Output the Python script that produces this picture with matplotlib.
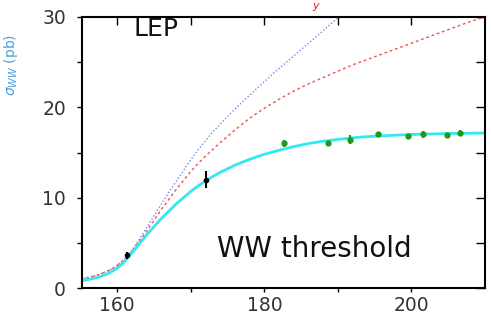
import matplotlib
matplotlib.use("Agg")
import matplotlib.pyplot as plt
import numpy as np

plt.rcParams['font.family'] = ['DejaVu Sans']

# Theory curves (sqrt(s) in GeV, sigma_WW in pb)
e_full = [155, 156, 157, 158, 159, 160, 161, 162, 163, 164, 165, 166, 167, 168, 169, 170, 171, 172, 173, 174,
          176, 178, 180, 182, 184, 186, 188, 190, 193, 196, 200, 205, 210]
sig_full = [0.8, 0.92, 1.1, 1.35, 1.7, 2.2, 2.95, 3.9, 4.9, 5.9, 6.8, 7.7, 8.5, 9.3, 10.0, 10.7, 11.3, 11.85, 12.35, 12.8,
            13.6, 14.25, 14.8, 15.25, 15.65, 16.0, 16.25, 16.45, 16.7, 16.85, 17.0, 17.1, 17.15]

e_nozww = [155, 156, 157, 158, 159, 160, 161, 162, 163, 164, 165, 166, 167, 168, 169, 170, 171, 172, 174, 176, 178,
           180, 182, 184, 186, 188, 190, 192, 194, 196, 198, 200, 202, 204, 206, 208, 210]
sig_nozww = [1.0, 1.15, 1.35, 1.65, 2.0, 2.5, 3.2, 4.1, 5.2, 6.3, 7.5, 8.7, 9.8, 10.9, 11.9, 12.9, 13.8, 14.6, 16.1, 17.5, 18.8,
             19.9, 20.9, 21.8, 22.6, 23.3, 24.0, 24.7, 25.3, 25.9, 26.5, 27.1, 27.7, 28.3, 28.9, 29.5, 30.0]

e_nunu = [155, 156, 157, 158, 159, 160, 161, 162, 163, 164, 165, 166, 167, 168, 169, 170, 171, 172, 173, 175, 177, 179,
          181, 183, 185, 187, 189, 191]
sig_nunu = [1.0, 1.15, 1.35, 1.65, 2.0, 2.5, 3.2, 4.2, 5.4, 6.7, 8.0, 9.3, 10.6, 11.8, 13.0, 14.2, 15.3, 16.3, 17.3, 19.0,
            20.6, 22.1, 23.6, 25.0, 26.4, 27.8, 29.2, 30.6]

# Measurements
e_thr = [161.3, 172.1]
s_thr = [3.6, 12.0]
err_thr = [0.4, 0.9]

e_lep2 = [182.7, 188.6, 191.6, 195.5, 199.5, 201.6, 204.8, 206.6]
s_lep2 = [16.0, 16.1, 16.4, 17.0, 16.8, 17.0, 16.9, 17.2]
err_lep2 = [0.4, 0.2, 0.5, 0.3, 0.3, 0.4, 0.3, 0.3]

fig = plt.figure(figsize=(4.91, 3.25), dpi=100)
ax = fig.add_axes([82/491, 37/325, 403/491, 271/325])

ax.plot(e_nunu, sig_nunu, color='#8080ee', lw=1.0, ls=(0, (1, 1.5)))
ax.plot(e_nozww, sig_nozww, color='#ee5555', lw=1.0, ls=(0, (2, 2)))
ax.plot(e_full, sig_full, color='#33e8ee', lw=2.0)
ax.errorbar(e_thr, s_thr, yerr=err_thr, fmt='o', color='black', ms=3, elinewidth=1.5, capsize=0)
ax.errorbar(e_lep2, s_lep2, yerr=err_lep2, fmt='o', color='#1a9a1a', ms=3.5, elinewidth=1.5, capsize=0)

ax.set_xlim(155.2, 210.0)
ax.set_ylim(0, 30)
ax.set_xticks([160, 180, 200])
ax.set_xticks([170, 190], minor=True)
ax.set_yticks([0, 10, 20, 30])
ax.set_yticks([5, 15, 25], minor=True)
for s in ax.spines.values():
    s.set_linewidth(1.5)
ax.tick_params(axis='both', which='both', direction='out', labelsize=13.5, labelcolor='#333333',
               width=1.0, length=3.6)
ax.tick_params(axis='x', which='both', length=3.0, pad=3)
ax.tick_params(axis='y', which='both', pad=8)
sec = ax.secondary_xaxis('top')
sec.set_xticks([160, 180, 200], labels=[])
sec.set_xticks([170, 190], minor=True)
sec.tick_params(which='both', direction='in', length=5.8, width=1.0)
sec.spines['top'].set_visible(False)
secy = ax.secondary_yaxis('right')
secy.set_yticks([0, 10, 20, 30], labels=[])
secy.set_yticks([5, 15, 25], minor=True)
secy.tick_params(which='both', direction='in', length=6.5, width=1.0)
secy.spines['right'].set_visible(False)

ax.text(162.2, 28.7, 'LEP', fontsize=18, color='#111111', va='center', ha='left')
ax.text(173.6, 3.4, 'WW threshold', fontsize=20, color='#111111', va='baseline', ha='left')

fig.text(0.004, 0.80, r'$\sigma_{WW}$ (pb)', rotation=90, fontsize=10, color='#4aa0d8', ha='left', va='center')
fig.text(0.637, 0.997, 'y', fontsize=8, color='#ee1111', ha='left', va='top', style='italic')

fig.savefig('out.png', dpi=100)
